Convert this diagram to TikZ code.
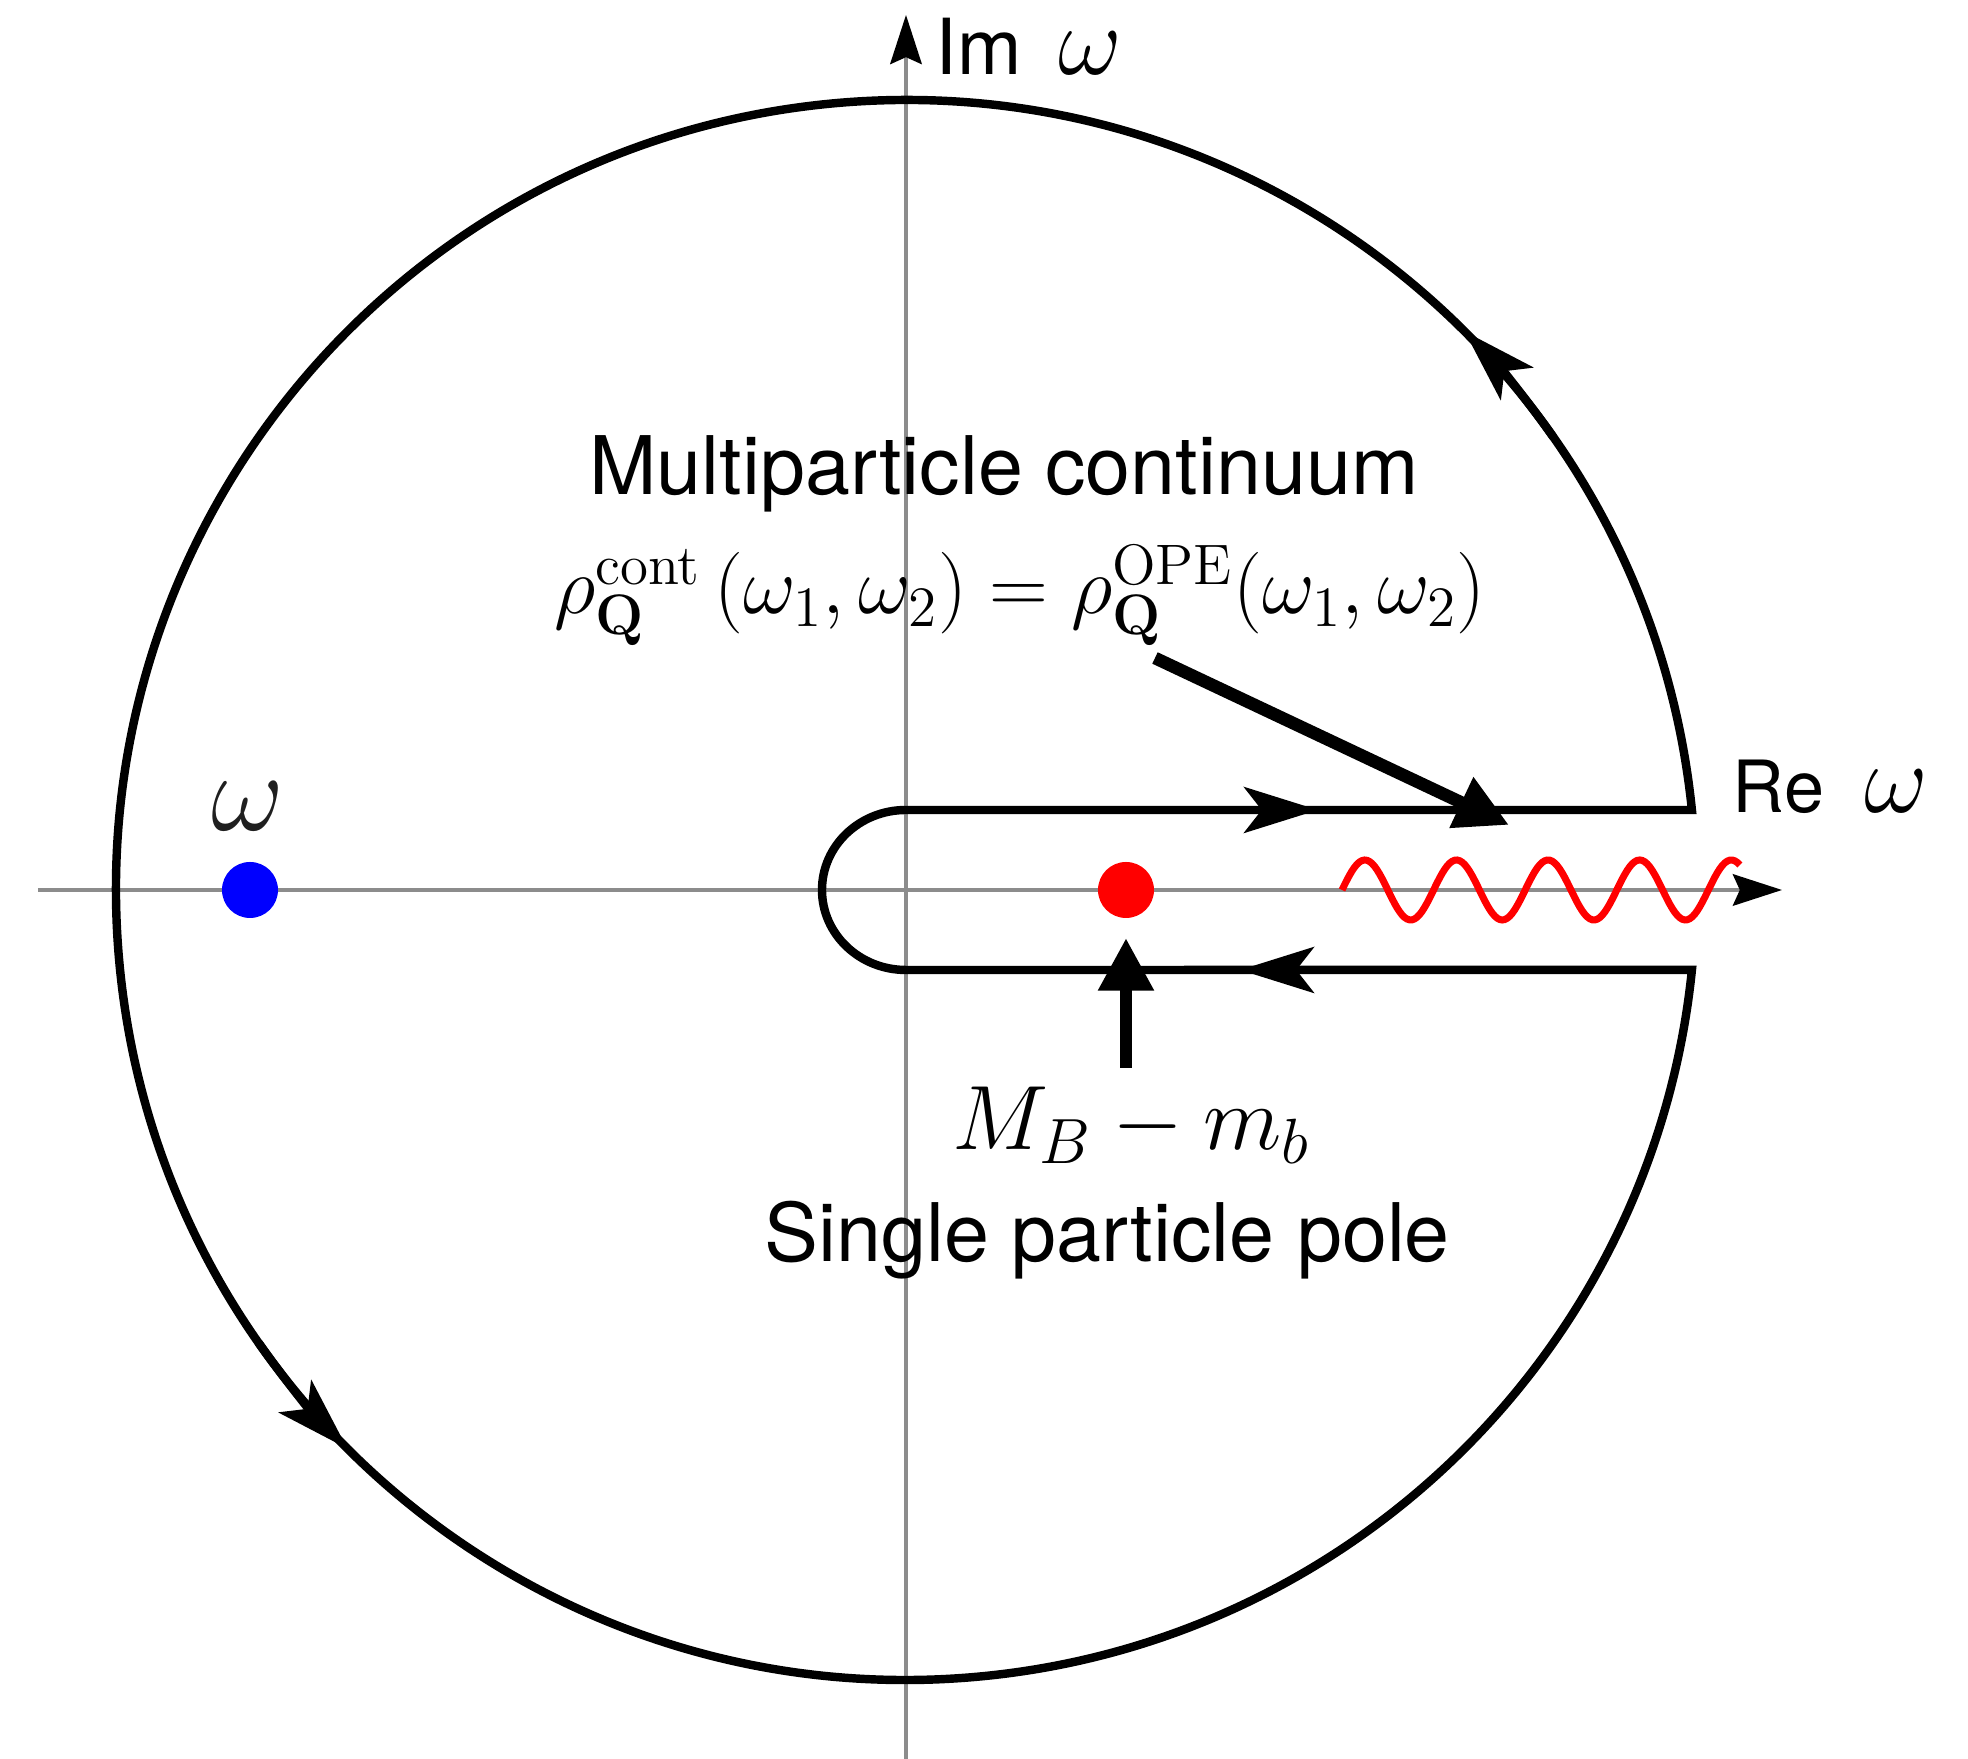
\RequirePackage{fix-cm}
\documentclass[tikz,border=0pt]{standalone}
\usepackage[no-math]{fontspec}
\setmainfont{TeX Gyre Heros}
\usetikzlibrary{arrows.meta}

\begin{document}
\begin{tikzpicture}[
  axis/.style={draw=black!45, line width=0.9pt, -{Stealth[length=14pt, width=9pt, inset=2pt, color=black]}},
  contour/.style={line width=2.4pt},
  flow/.style={line width=2.4pt, -{Stealth[length=21pt, width=13pt, inset=5pt]}},
  pointer/.style={line width=3.6pt, -{Triangle[length=15pt, width=15pt]}},
  dot/.style={circle, inner sep=0pt, minimum size=0.56cm},
  lbl/.style={font=\fontsize{23}{27}\selectfont, inner sep=0pt}
]
\useasboundingbox (-9.06,-8.69) rectangle (10.62,8.90);

% axes
\draw[axis] (-8.68,0) -- (8.76,0);
\draw[axis] (0,-8.69) -- (0,8.75);

% keyhole contour
\draw[contour] (5.81:7.9) arc[start angle=5.81, end angle=354.19, radius=7.9]
  -- (0,-0.8) arc[start angle=270, end angle=90, x radius=0.84, y radius=0.8] -- cycle;
\draw[flow] (3.0,0.8) -- (4.12,0.8);
\draw[flow] (4.5,-0.8) -- (3.34,-0.8);
\draw[flow] (35:7.9) arc[start angle=35, end angle=45, radius=7.9];
\draw[flow] (215:7.9) arc[start angle=215, end angle=225, radius=7.9];

% poles and cut
\node[dot, fill=blue] (point) at (-6.56,0) {};
\node[dot, fill=red] (pole) at (2.2,0) {};
\node[font=\fontsize{32}{36}\selectfont, text=black!88] (pointlbl) at (-6.58,0.84) {$\omega$};
\draw[red, line width=2pt] plot[domain=4.36:8.34, samples=160] (\x,{0.3*sin(360*(\x-4.36)/0.916)});

% labels
\node[inner sep=0pt, anchor=base west] (im) at (0.29,8.15)
  {{\fontsize{22}{26}\selectfont Im}\hspace{0.37cm}{\fontsize{28}{30}\selectfont$\omega$}};
\node[inner sep=0pt, anchor=base west] (re) at (8.26,0.77)
  {{\fontsize{20.5}{24}\selectfont Re}\hspace{0.4cm}{\fontsize{28}{30}\selectfont$\omega$}};
\node[lbl, anchor=base] (multi) at (0.98,3.95) {Multiparticle continuum};
\node[font=\fontsize{23.2}{28}\selectfont, inner sep=0pt, anchor=base] (rho) at (1.14,2.76)
  {$\rho^{\mathrm{cont}}_{\mathbf{Q}}\,(\omega_1,\omega_2)=\rho^{\mathrm{OPE}}_{\mathbf{Q}}(\omega_1,\omega_2)$};
\node[font=\fontsize{26}{30}\selectfont, inner sep=0pt, anchor=base west] (mass) at (0.46,-2.60) {$M_B-m_b$};
\node[lbl, anchor=base west] (single) at (-1.42,-3.72) {Single particle pole};

% pointers
\coordinate (contTail) at (2.49,2.32);
\coordinate (contTip) at (6.03,0.65);
\draw[pointer] (contTail) -- (contTip);
\coordinate (poleTail) at (2.2,-1.78);
\coordinate (poleTip) at (2.2,-0.48);
\draw[pointer] (poleTail) -- (poleTip);
\end{tikzpicture}
\end{document}
